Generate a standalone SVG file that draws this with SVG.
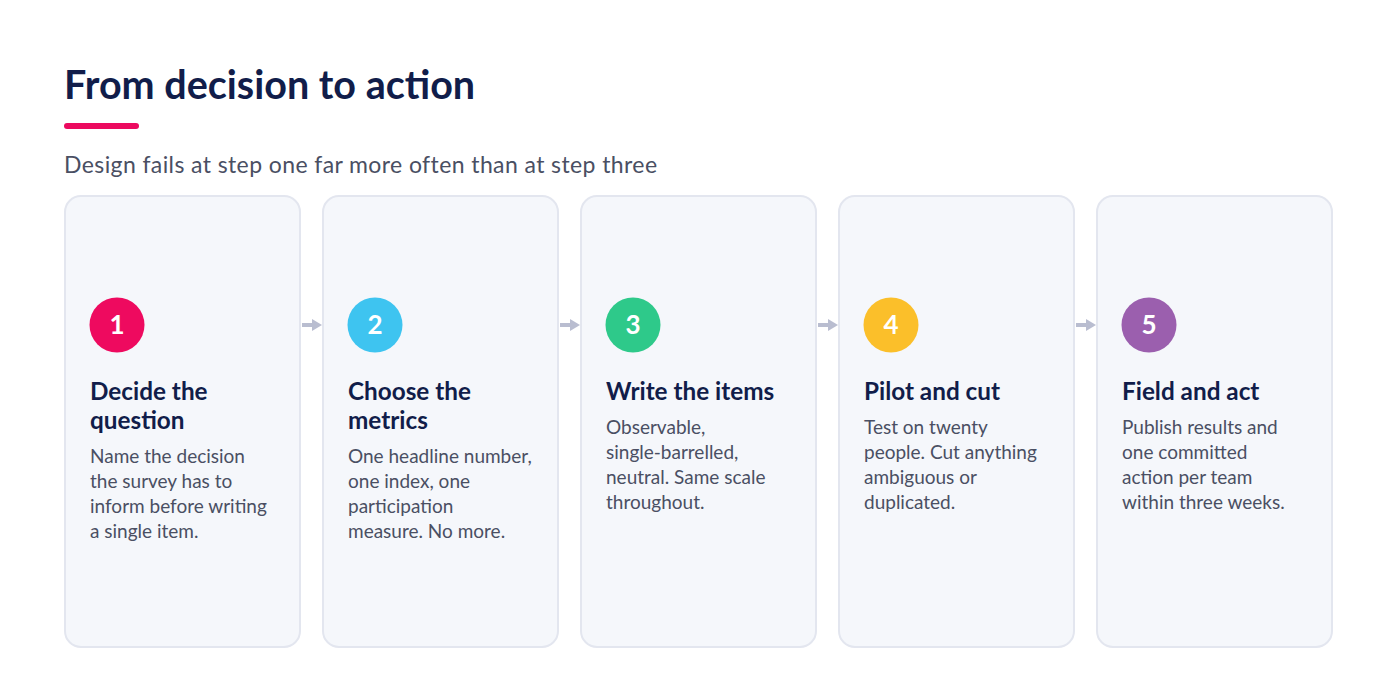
<svg xmlns="http://www.w3.org/2000/svg" width="1400" height="700" viewBox="0 0 1400 700">
<defs>
<style>
.title{font-family:Lato,"Noto Sans",sans-serif;font-weight:700;font-size:39.5px;fill:#111d4a}
.sub{font-family:Lato,"Noto Sans",sans-serif;font-size:23px;letter-spacing:0.4px;fill:#4a4f63}
.card{fill:#f5f7fb;stroke:#e3e6ef;stroke-width:2}
.num{font-family:Lato,"Noto Sans",sans-serif;font-weight:700;font-size:26px;fill:#ffffff;text-anchor:middle}
.h{font-family:Lato,"Noto Sans",sans-serif;font-weight:700;font-size:24.3px;fill:#111d4a}
.b{font-family:Lato,"Noto Sans",sans-serif;font-size:19px;fill:#4a4f63}
.conn{stroke:#b9bdd0;stroke-width:4;fill:none}
</style>
<marker id="ah" markerWidth="10" markerHeight="12" refX="0" refY="6" orient="auto" markerUnits="userSpaceOnUse">
<path d="M0,0 L10,6 L0,12 Z" fill="#b9bdd0"/>
</marker>
</defs>
<rect width="1400" height="700" fill="#ffffff"/>
<text class="title" x="64" y="99">From decision to action</text>
<rect x="64" y="123" width="75" height="6" rx="3" fill="#ec0a5f"/>
<text class="sub" x="64" y="173">Design fails at step one far more often than at step three</text>

<g id="connectors">
<path class="conn" d="M302,325 H312" marker-end="url(#ah)"/>
<path class="conn" d="M560,325 H570" marker-end="url(#ah)"/>
<path class="conn" d="M818,325 H828" marker-end="url(#ah)"/>
<path class="conn" d="M1076,325 H1086" marker-end="url(#ah)"/>
</g>

<g id="step1">
<rect class="card" x="65" y="196" width="235" height="451" rx="16"/>
<circle cx="117" cy="325" r="27.5" fill="#ee0a5f"/>
<text class="num" x="117" y="334">1</text>
<text class="h" x="90" y="400">Decide the</text>
<text class="h" x="90" y="429">question</text>
<text class="b" x="90" y="463">Name the decision</text>
<text class="b" x="90" y="488">the survey has to</text>
<text class="b" x="90" y="513">inform before writing</text>
<text class="b" x="90" y="538">a single item.</text>
</g>

<g id="step2">
<rect class="card" x="323" y="196" width="235" height="451" rx="16"/>
<circle cx="375" cy="325" r="27.5" fill="#3ec4f0"/>
<text class="num" x="375" y="334">2</text>
<text class="h" x="348" y="400">Choose the</text>
<text class="h" x="348" y="429">metrics</text>
<text class="b" x="348" y="463">One headline number,</text>
<text class="b" x="348" y="488">one index, one</text>
<text class="b" x="348" y="513">participation</text>
<text class="b" x="348" y="538">measure. No more.</text>
</g>

<g id="step3">
<rect class="card" x="581" y="196" width="235" height="451" rx="16"/>
<circle cx="633" cy="325" r="27.5" fill="#2ec98a"/>
<text class="num" x="633" y="334">3</text>
<text class="h" x="606" y="400">Write the items</text>
<text class="b" x="606" y="434">Observable,</text>
<text class="b" x="606" y="459">single-barrelled,</text>
<text class="b" x="606" y="484">neutral. Same scale</text>
<text class="b" x="606" y="509">throughout.</text>
</g>

<g id="step4">
<rect class="card" x="839" y="196" width="235" height="451" rx="16"/>
<circle cx="891" cy="325" r="27.5" fill="#fbbf2a"/>
<text class="num" x="891" y="334">4</text>
<text class="h" x="864" y="400">Pilot and cut</text>
<text class="b" x="864" y="434">Test on twenty</text>
<text class="b" x="864" y="459">people. Cut anything</text>
<text class="b" x="864" y="484">ambiguous or</text>
<text class="b" x="864" y="509">duplicated.</text>
</g>

<g id="step5">
<rect class="card" x="1097" y="196" width="235" height="451" rx="16"/>
<circle cx="1149" cy="325" r="27.5" fill="#9b5fae"/>
<text class="num" x="1149" y="334">5</text>
<text class="h" x="1122" y="400">Field and act</text>
<text class="b" x="1122" y="434">Publish results and</text>
<text class="b" x="1122" y="459">one committed</text>
<text class="b" x="1122" y="484">action per team</text>
<text class="b" x="1122" y="509">within three weeks.</text>
</g>
</svg>
